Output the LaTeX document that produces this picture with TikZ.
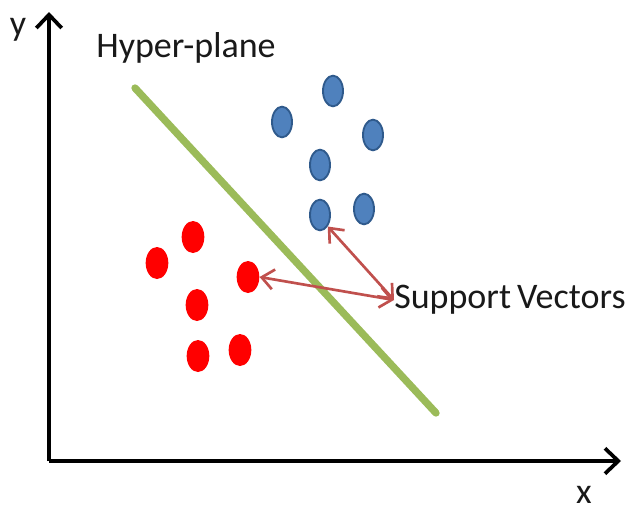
\documentclass[tikz,border=0pt]{standalone}
\usepackage{fontspec}
\setmainfont{Carlito}
\usetikzlibrary{shapes.geometric,arrows.meta}
\definecolor{planegreen}{HTML}{9BBB59}
\definecolor{dotblue}{HTML}{4F81BD}
\definecolor{dotblueline}{HTML}{2F5A8C}
\definecolor{svred}{HTML}{C0504D}
\begin{document}
\begin{tikzpicture}[x=0.75pt,y=-0.75pt]
        \tikzstyle{axis} = [line width=2.8pt,-{Straight Barb[length=10pt,width=19pt,line width=2.8pt]}]
        \tikzstyle{plane} = [line width=5.5pt, planegreen]
        \tikzstyle{blue} = [ellipse, minimum width=15pt, minimum height=23pt, inner sep=0pt, fill=dotblue, draw=dotblueline, line width=1.4pt]
        \tikzstyle{red} = [ellipse, minimum width=17pt, minimum height=24pt, inner sep=0pt, fill=red]
        \tikzstyle{arrow} = [line width=2pt, svred, {Straight Barb[length=9pt,width=15pt,line width=2pt]}-{Straight Barb[length=9pt,width=15pt,line width=2pt]}]
        \tikzstyle{label} = [font=\fontsize{27}{32}\selectfont, text=black!90, inner sep=0pt]
        \useasboundingbox (0,0) rectangle (633,514);

        \coordinate (o) at (49,461);
        \coordinate (ytop) at (49,12);
        \coordinate (xend) at (621,461);
        \node (ylab) [label] at (18,30) {y};
        \node (xlab) [label] at (584,495) {x};
        \node (hyper) [label] at (186,48) {Hyper-plane};
        \node (sv) [label, anchor=west] at (394,300) {Support\,Vectors};

        \coordinate (p1) at (135,88);
        \coordinate (p2) at (436,413);

        \node (b1) [blue] at (333,91) {};
        \node (b2) [blue] at (282,122) {};
        \node (b3) [blue] at (373,135) {};
        \node (b4) [blue] at (320,165) {};
        \node (b5) [blue] at (320,215) {};
        \node (b6) [blue] at (364,209) {};

        \node (r1) [red] at (193,237) {};
        \node (r2) [red] at (157,263) {};
        \node (r3) [red] at (248,277) {};
        \node (r4) [red] at (197,305) {};
        \node (r5) [red] at (198,356) {};
        \node (r6) [red] at (240,350) {};

        \draw [axis] (o) -- (ytop);
        \draw [axis] (o) -- (xend);
        \draw [plane, line cap=round] (p1) -- (p2);
        \draw [arrow] (b5.south east) -- (sv.west);
        \draw [arrow] (r3.east) -- (sv.west);

    \end{tikzpicture}
\end{document}
